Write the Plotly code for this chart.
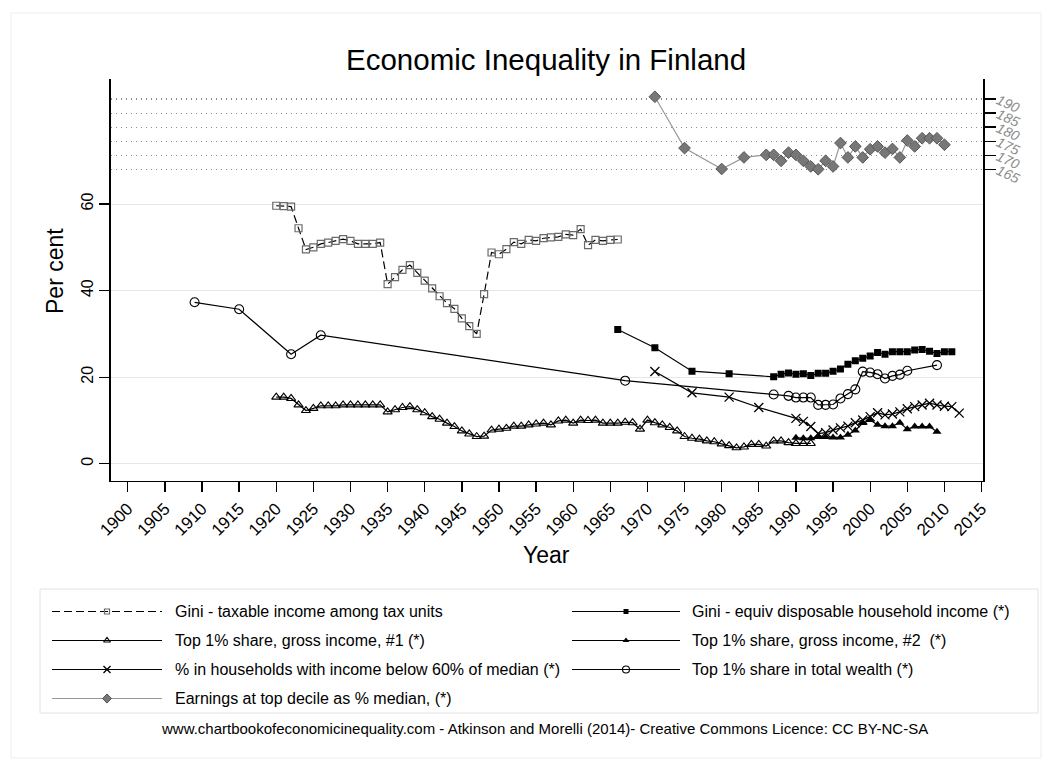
import plotly.graph_objects as go

# ---------------- data ----------------
gini_tax_years = list(range(1920, 1967))
gini_tax_vals = [59.6, 59.5, 59.4, 54.4, 49.5, 50.0, 50.8, 51.1, 51.5, 51.9,
                 51.5, 50.8, 50.8, 50.8, 51.1, 41.5, 43.1, 44.8, 45.9, 44.1,
                 42.3, 40.5, 38.7, 37.1, 35.8, 33.6, 31.8, 30.0, 39.2, 48.8,
                 48.4, 49.6, 51.2, 50.8, 51.7, 51.5, 52.1, 52.3, 52.4, 53.0,
                 52.8, 54.2, 50.5, 51.7, 51.5, 51.7, 51.8]

gini_eq_years = [1966, 1971, 1976, 1981, 1987, 1988, 1989, 1990, 1991, 1992,
                 1993, 1994, 1995, 1996, 1997, 1998, 1999, 2000, 2001, 2002,
                 2003, 2004, 2005, 2006, 2007, 2008, 2009, 2010, 2011]
gini_eq_vals = [31.0, 26.8, 21.4, 20.8, 20.1, 20.7, 21.0, 20.7, 20.8, 20.4,
                20.9, 20.9, 21.4, 21.9, 23.0, 23.8, 24.4, 24.9, 25.7, 25.3,
                25.9, 25.9, 25.9, 26.3, 26.4, 26.0, 25.5, 25.9, 25.9]

top1a_years = list(range(1920, 1993))
top1a_vals = [15.4, 15.4, 15.1, 13.6, 12.3, 12.8, 13.4, 13.4, 13.4, 13.6,
              13.6, 13.6, 13.6, 13.6, 13.6, 12.0, 12.5, 13.0, 13.2, 12.5,
              11.8, 10.9, 10.3, 9.4, 8.6, 7.6, 6.9, 6.3, 6.4, 7.8,
              8.0, 8.2, 8.7, 8.7, 9.0, 9.2, 9.4, 9.0, 9.9, 10.1,
              9.4, 10.1, 10.0, 10.1, 9.4, 9.4, 9.4, 9.6, 9.5, 8.0,
              10.1, 9.5, 9.0, 8.4, 7.6, 6.3, 5.9, 5.7, 5.3, 5.1,
              4.6, 4.2, 3.7, 3.9, 4.5, 4.5, 4.1, 5.3, 5.3, 4.9,
              4.7, 4.7, 4.7]

top1b_years = list(range(1990, 2010))
top1b_vals = [6.0, 5.9, 5.9, 6.2, 6.2, 6.1, 6.1, 6.7, 7.7, 9.4,
              10.1, 9.0, 8.7, 8.7, 9.5, 8.0, 8.6, 8.6, 8.6, 7.4]

pov_years = [1971, 1976, 1981, 1985, 1990, 1991, 1992, 1993, 1994, 1995,
             1996, 1997, 1998, 1999, 2000, 2001, 2002, 2003, 2004, 2005,
             2006, 2007, 2008, 2009, 2010, 2011, 2012]
pov_vals = [21.3, 16.4, 15.4, 13.0, 10.5, 9.8, 8.6, 7.0, 7.2, 7.8,
            8.3, 8.7, 9.5, 10.1, 10.9, 11.8, 11.3, 11.5, 12.0, 12.7,
            13.2, 13.6, 14.0, 13.6, 13.3, 13.2, 11.7]

wealth_years = [1909, 1915, 1922, 1926, 1967, 1987, 1989, 1990, 1991, 1992,
                1993, 1994, 1995, 1996, 1997, 1998, 1999, 2000, 2001, 2002,
                2003, 2004, 2005, 2009]
wealth_vals = [37.3, 35.7, 25.3, 29.7, 19.2, 16.0, 15.7, 15.3, 15.3, 15.3,
               13.6, 13.6, 13.7, 15.1, 16.1, 17.2, 21.3, 21.1, 20.7, 19.7,
               20.3, 20.6, 21.5, 22.8]

earn_years = [1971, 1975, 1980, 1983, 1986, 1987, 1988, 1989, 1990, 1991,
              1992, 1993, 1994, 1995, 1996, 1997, 1998, 1999, 2000, 2001,
              2002, 2003, 2004, 2005, 2006, 2007, 2008, 2009, 2010]
earn_vals = [190.8, 172.6, 165.2, 169.3, 170.2, 170.2, 168.1, 171.0, 170.2, 168.1,
             166.1, 165.1, 168.1, 166.1, 174.4, 169.3, 173.2, 169.3, 172.2, 173.2,
             171.0, 172.3, 169.3, 175.3, 173.2, 176.1, 176.1, 176.1, 173.8]

x_ticks = list(range(1900, 2016, 5))
y_ticks = [0, 20, 40, 60]
y2_ticks = [165, 170, 175, 180, 185, 190]

legend_labels = [
    "Gini - taxable income among tax units",
    "Gini - equiv disposable household income (*)",
    "Top 1% share, gross income, #1 (*)",
    "Top 1% share, gross income, #2  (*)",
    "% in households with income below 60% of median (*)",
    "Top 1% share in total wealth (*)",
    "Earnings at top decile as % median, (*)",
]

# ---------------- layout geometry (pixels) ----------------
W_FIG, H_FIG = 1051, 771
L, R, T, B = 110.7, 983.0, 79.0, 480.7


def fx(x):
    return x / W_FIG


def fy(y):
    return 1 - y / H_FIG


FONT = "Liberation Sans, Arial, sans-serif"

styles = [
    dict(line=dict(color="black", width=1.2, dash="8px,4px"),
         marker=dict(symbol="square-open", size=7, color="#6a6a6a", line=dict(width=1.2))),
    dict(line=dict(color="black", width=1.2),
         marker=dict(symbol="square", size=7, color="black")),
    dict(line=dict(color="black", width=1.2),
         marker=dict(symbol="triangle-up-open", size=8, color="black", line=dict(width=1.1))),
    dict(line=dict(color="black", width=1.2),
         marker=dict(symbol="triangle-up", size=8, color="black")),
    dict(line=dict(color="black", width=1.2),
         marker=dict(symbol="x-thin-open", size=9, color="black", line=dict(color="black", width=1.3))),
    dict(line=dict(color="black", width=1.2),
         marker=dict(symbol="circle-open", size=9, color="black", line=dict(width=1.1))),
    dict(line=dict(color="#999999", width=1.2),
         marker=dict(symbol="diamond", size=9, color="#777777", line=dict(color="#555555", width=1))),
]

series = [
    (gini_tax_years, gini_tax_vals, "y"),
    (gini_eq_years, gini_eq_vals, "y"),
    (top1a_years, top1a_vals, "y"),
    (top1b_years, top1b_vals, "y"),
    (pov_years, pov_vals, "y"),
    (wealth_years, wealth_vals, "y"),
    (earn_years, earn_vals, "y2"),
]

fig = go.Figure()
order = [6, 0, 2, 3, 4, 5, 1]
for i in order:
    xs, ys, ax = series[i]
    fig.add_trace(go.Scatter(x=xs, y=ys, xaxis="x", yaxis=ax, mode="lines+markers",
                             name=legend_labels[i], showlegend=False, **styles[i]))

# ---------------- custom legend (pixel-space helper subplot x3/y3) ----------------
leg_rows = [611.5, 640.5, 669.5, 698.5]
col_left = dict(x0=52, x1=162, xm=107, xt=173)
col_right = dict(x0=572, x1=680, xm=626, xt=690)
slots = [(col_left, 0), (col_right, 0), (col_left, 1), (col_right, 1),
         (col_left, 2), (col_right, 2), (col_left, 3)]
annotations = []
for i, (col, r) in enumerate(slots):
    yy = leg_rows[r]
    st = styles[i]
    fig.add_trace(go.Scatter(x=[col["x0"], col["x1"]], y=[yy, yy], xaxis="x3", yaxis="y3",
                             mode="lines", line=st["line"], showlegend=False,
                             hoverinfo="skip", cliponaxis=False))
    mk = dict(st["marker"])
    mk["size"] = max(mk["size"] - 2, 5)
    fig.add_trace(go.Scatter(x=[col["xm"]], y=[yy], xaxis="x3", yaxis="y3",
                             mode="markers", marker=mk, cliponaxis=False,
                             showlegend=False, hoverinfo="skip"))
    annotations.append(dict(xref="paper", yref="paper", x=fx(col["xt"]), y=fy(yy),
                            xanchor="left", yanchor="middle", showarrow=False,
                            text=legend_labels[i], font=dict(size=16, color="black")))

shapes = [
    dict(type="rect", xref="paper", yref="paper",
         x0=fx(40), x1=fx(1038), y0=fy(713), y1=fy(589),
         line=dict(color="#e2e2e2", width=1), layer="below"),
    dict(type="rect", xref="paper", yref="paper",
         x0=fx(11), x1=fx(1041), y0=fy(758), y1=fy(13),
         line=dict(color="#eeeeee", width=1), layer="below"),
]

annotations += [
    dict(xref="paper", yref="paper", x=fx(55), y=fy(271), text="Per cent",
         textangle=-90, showarrow=False, xanchor="center", yanchor="middle",
         font=dict(size=23, color="black")),
    dict(xref="paper", yref="paper", x=fx(546), y=fy(555), text="Year",
         showarrow=False, xanchor="center", yanchor="middle",
         font=dict(size=23, color="black")),
    dict(xref="paper", yref="paper", x=fx(544), y=fy(728),
         text="www.chartbookofeconomicinequality.com - Atkinson and Morelli (2014)- Creative Commons Licence: CC BY-NC-SA",
         showarrow=False, xanchor="center", yanchor="middle",
         font=dict(size=15, color="black")),
    dict(xref="paper", yref="paper", x=fx(546), y=fy(60),
         text="Economic Inequality in Finland",
         showarrow=False, xanchor="center", yanchor="middle",
         font=dict(size=29.5, color="black")),
]

fig.update_layout(
    width=W_FIG, height=H_FIG,
    margin=dict(l=0, r=0, t=0, b=0, pad=0, autoexpand=False),
    paper_bgcolor="white", plot_bgcolor="rgba(0,0,0,0)",
    font=dict(family=FONT, color="black"),
    showlegend=False,
    xaxis=dict(domain=[fx(L), fx(R)], range=[1897.7, 2015.2], anchor="y",
               tickmode="array", tickvals=x_ticks,
               ticktext=[str(v) for v in x_ticks], tickangle=-45,
               ticks="outside", ticklen=10, tickwidth=1.3, tickcolor="black",
               showline=True, linecolor="black", linewidth=1.5,
               showgrid=False, zeroline=False, tickfont=dict(size=17)),
    yaxis=dict(domain=[fy(B), fy(T)], range=[-3.9, 88.87], anchor="x",
               tickmode="array", tickvals=y_ticks,
               tickangle=-90, ticks="outside", ticklen=10, tickwidth=1.3,
               tickcolor="black", showline=True, linecolor="black", linewidth=1.5,
               showgrid=True, gridcolor="#e6e6e6", gridwidth=1, zeroline=False,
               tickfont=dict(size=16)),
    yaxis2=dict(range=[54.7, 197.1], overlaying="y", side="right", anchor="x",
                tickmode="array", tickvals=y2_ticks, tickangle=25,
                ticks="outside", ticklen=11, tickwidth=1.5, tickcolor="black",
                showline=True, linecolor="black", linewidth=1.5,
                showgrid=True, gridcolor="#8a8a8a", gridwidth=1.2, griddash="1px,4px",
                zeroline=False,
                tickfont=dict(size=14, color="#8c8c8c", style="italic")),
    xaxis3=dict(domain=[0, 1], range=[0, W_FIG], anchor="y3", visible=False, fixedrange=True),
    yaxis3=dict(domain=[0, 1], range=[H_FIG, 0], anchor="x3", visible=False, fixedrange=True),
    shapes=shapes,
    annotations=annotations,
)

fig.write_html("out.html", config={"displayModeBar": False, "staticPlot": True},
               post_script="document.body.style.margin='0';document.body.style.overflow='hidden';")
